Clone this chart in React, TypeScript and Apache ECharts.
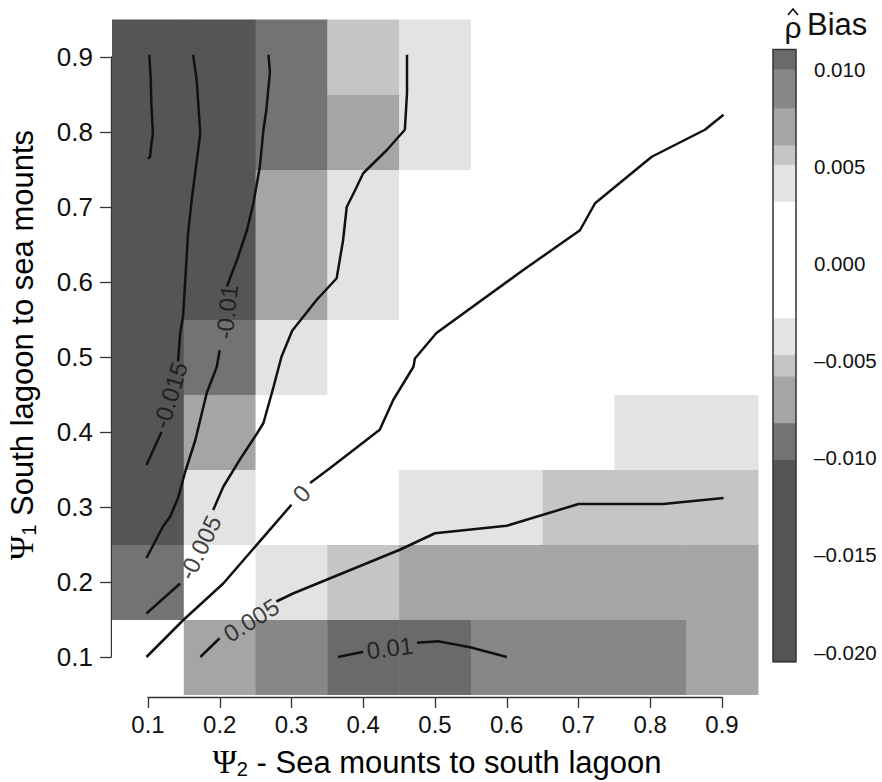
import React, { useEffect, useRef } from "react";
import * as echarts from "echarts";

// ---- axis categories (cell centres) ----
const xCats = [0.1, 0.2, 0.3, 0.4, 0.5, 0.6, 0.7, 0.8, 0.9]; // Psi2
const yCats = [0.1, 0.2, 0.3, 0.4, 0.5, 0.6, 0.7, 0.8, 0.9]; // Psi1
const cellStep = 0.1;

// ---- bias values per row (Psi1), columns follow xCats ----
const row01 = [0.0005, 0.007, 0.009, 0.0103, 0.0105, 0.0095, 0.009, 0.0085, 0.0075];
const row02 = [-0.009, -0.0015, 0.004, 0.0056, 0.0068, 0.007, 0.0072, 0.0071, 0.007];
const row03 = [-0.013, -0.004, -0.001, 0.0008, 0.0035, 0.0042, 0.0053, 0.0055, 0.0056];
const row04 = [-0.016, -0.007, -0.0025, -0.001, 0.0002, 0.001, 0.0018, 0.0035, 0.0036];
const row05 = [-0.017, -0.0092, -0.0035, -0.0018, -0.0008, 0.0, 0.0006, 0.0012, 0.0018];
const row06 = [-0.018, -0.012, -0.0068, -0.0038, -0.002, -0.001, -0.0002, 0.0005, 0.0012];
const row07 = [-0.0185, -0.0125, -0.007, -0.004, -0.0022, -0.0012, -0.0005, 0.0002, 0.0008];
const row08 = [-0.0195, -0.0135, -0.0088, -0.0065, -0.0033, -0.0018, -0.001, -0.0004, 0.0001];
const row09 = [-0.02, -0.014, -0.009, -0.0052, -0.0035, -0.002, -0.001, -0.0005, 0.0];
const biasRows = [row01, row02, row03, row04, row05, row06, row07, row08, row09];

// ---- colour scale ----
const bandBreaks = [-0.0205, -0.0101, -0.0082, -0.0058, -0.0047, -0.0028, 0.0032, 0.0051, 0.0061, 0.008, 0.01, 0.011];
const bandColors = ["#555555", "#737373", "#a5a5a5", "#c5c5c5", "#e3e3e3", "#ffffff", "#e3e3e3", "#c5c5c5", "#a5a5a5", "#878787", "#6a6a6a"];
const legendTicks = [-0.02, 0.01, 0.005];

// ---- contour lines (Psi2, Psi1) ----
const contourUnlabeled = [[0.102, 0.903], [0.104, 0.869], [0.105, 0.834], [0.107, 0.798], [0.105, 0.785], [0.103, 0.767], [0.1, 0.764]];
const contourM015a = [[0.163, 0.903], [0.168, 0.869], [0.173, 0.798], [0.17, 0.776], [0.161, 0.709], [0.156, 0.665], [0.149, 0.554], [0.145, 0.532], [0.142, 0.494]];
const contourM015b = [[0.119, 0.4], [0.098, 0.356]];
const contourM010a = [[0.268, 0.903], [0.27, 0.88], [0.265, 0.829], [0.261, 0.803], [0.256, 0.754], [0.247, 0.705], [0.238, 0.669], [0.224, 0.629], [0.21, 0.594]];
const contourM010b = [[0.2, 0.509], [0.196, 0.487], [0.182, 0.452], [0.166, 0.389], [0.152, 0.347], [0.142, 0.312], [0.131, 0.287], [0.121, 0.274], [0.098, 0.232]];
const contourM005a = [[0.461, 0.903], [0.461, 0.852], [0.458, 0.803], [0.433, 0.776], [0.4, 0.745], [0.389, 0.723], [0.377, 0.7], [0.372, 0.656], [0.363, 0.605], [0.335, 0.576], [0.301, 0.535], [0.286, 0.5], [0.275, 0.46], [0.261, 0.412], [0.252, 0.398], [0.228, 0.363], [0.205, 0.327], [0.191, 0.296]];
const contourM005b = [[0.145, 0.198], [0.098, 0.158]];
const contourZeroA = [[0.902, 0.823], [0.876, 0.803], [0.802, 0.767], [0.793, 0.76], [0.723, 0.705], [0.702, 0.669], [0.623, 0.616], [0.502, 0.532], [0.472, 0.498], [0.47, 0.487], [0.442, 0.443], [0.423, 0.403], [0.354, 0.352], [0.326, 0.332]];
const contourZeroB = [[0.3, 0.303], [0.205, 0.198], [0.149, 0.149], [0.098, 0.1]];
const contourP005a = [[0.173, 0.1], [0.2, 0.125]];
const contourP005b = [[0.279, 0.174], [0.303, 0.185], [0.354, 0.205], [0.405, 0.225], [0.451, 0.243], [0.5, 0.265], [0.6, 0.275], [0.7, 0.304], [0.818, 0.304], [0.902, 0.312]];
const contourP010a = [[0.365, 0.1], [0.4, 0.107]];
const contourP010b = [[0.475, 0.119], [0.504, 0.121], [0.549, 0.113], [0.6, 0.1]];
const contourSegments = [
  contourUnlabeled, contourM015a, contourM015b, contourM010a, contourM010b,
  contourM005a, contourM005b, contourZeroA, contourZeroB, contourP005a, contourP005b,
  contourP010a, contourP010b,
];

const labelTexts = ["-0.015", "-0.01", "-0.005", "0", "0.005", "0.01"];
const labelX = [0.131, 0.21, 0.1725, 0.314, 0.244, 0.437];
const labelY = [0.449, 0.56, 0.246, 0.318, 0.149, 0.112];
const labelAngles = [73, 84, 64, 46, 32, 7];

const FONT = "'Liberation Sans', Arial, Helvetica, sans-serif";

function colorFor(v: number): string {
  for (let i = 0; i < bandColors.length; i++) {
    if (v < bandBreaks[i + 1]) return bandColors[i];
  }
  return bandColors[bandColors.length - 1];
}

export default function App() {
  const ref = useRef<HTMLDivElement>(null);
  useEffect(() => {
    if (!ref.current) return;
    const chart = echarts.init(ref.current, null, { renderer: "svg" });

    const cells: number[][] = [];
    biasRows.forEach((row, j) => row.forEach((v, i) => cells.push([xCats[i], yCats[j], v])));

    const bands = bandColors.map((c, i) => [bandBreaks[i], bandBreaks[i + 1], i]);

    const subRich = {
      p: { fontFamily: "'Liberation Serif', 'DejaVu Serif', serif", fontSize: 33, color: "#111" },
      s: { fontFamily: FONT, fontSize: 20, color: "#111", padding: [14, 0, 0, 0] },
      t: { fontFamily: FONT, fontSize: 31, color: "#111" },
    };

    const option: any = {
      animation: false,
      textStyle: { fontFamily: FONT },
      grid: [
        { left: 112, top: 19.5, width: 646, height: 675, containLabel: false, outerBoundsMode: "none" },
        { left: 148, top: 57, width: 574, height: 600, containLabel: false, outerBoundsMode: "none" },
        { left: 773, top: 69, width: 23, height: 583, containLabel: false, outerBoundsMode: "none" },
      ],
      xAxis: [
        { gridIndex: 0, type: "value", min: 0.05, max: 0.95, show: false },
        {
          gridIndex: 1, type: "value", min: 0.1, max: 0.9, interval: 0.1, position: "bottom", offset: 40,
          axisLine: { show: true, lineStyle: { color: "#333", width: 1.3 } },
          axisTick: { show: true, length: 11, lineStyle: { color: "#333", width: 1.3 } },
          axisLabel: { fontSize: 24, color: "#111", margin: 15, formatter: (v: number) => v.toFixed(1) },
          splitLine: { show: false },
        },
        { gridIndex: 2, type: "value", min: 0, max: 1, show: false },
      ],
      yAxis: [
        { gridIndex: 0, type: "value", min: 0.05, max: 0.95, show: false },
        {
          gridIndex: 1, type: "value", min: 0.1, max: 0.9, interval: 0.1, position: "left", offset: 37,
          axisLine: { show: true, lineStyle: { color: "#333", width: 1.3 } },
          axisTick: { show: true, length: 11, lineStyle: { color: "#333", width: 1.3 } },
          axisLabel: { fontSize: 26, color: "#111", margin: 18, formatter: (v: number) => v.toFixed(1) },
          splitLine: { show: false },
        },
        {
          gridIndex: 2, type: "value", min: legendTicks[0], max: legendTicks[1], interval: legendTicks[2], position: "right",
          axisLine: { show: false },
          axisTick: { show: true, length: 11, lineStyle: { color: "#888", width: 2 } },
          axisLabel: {
            fontSize: 20.5, color: "#111", margin: 18,
            formatter: (v: number) => (Math.abs(v) < 1e-9 ? "0.000" : v.toFixed(3).replace("-", "\u2013")),
          },
          splitLine: { show: false },
        },
      ],
      series: [
        {
          type: "custom", xAxisIndex: 0, yAxisIndex: 0, data: cells,
          renderItem: (params: any, api: any) => {
            const c = api.coord([api.value(0), api.value(1)]);
            const s = api.size([cellStep, cellStep]);
            return {
              type: "rect",
              shape: { x: c[0] - s[0] / 2, y: c[1] - s[1] / 2, width: s[0] + 0.5, height: s[1] + 0.5 },
              style: { fill: colorFor(api.value(2)) },
            };
          },
        },
        ...contourSegments.map((seg) => ({
          type: "line", xAxisIndex: 0, yAxisIndex: 0, data: seg, showSymbol: false, symbol: "none",
          lineStyle: { color: "#111", width: 2.5 }, silent: true, z: 3,
        })),
        {
          type: "scatter", xAxisIndex: 0, yAxisIndex: 0, symbolSize: 2, z: 5,
          itemStyle: { color: "rgba(0,0,0,0)" },
          data: labelTexts.map((t, i) => ({
            value: [labelX[i], labelY[i]],
            label: {
              show: true, position: "inside", formatter: t, rotate: labelAngles[i],
              fontSize: 24, color: "#111", fontFamily: FONT,
            },
          })),
        },
        {
          type: "custom", xAxisIndex: 2, yAxisIndex: 2, data: bands, clip: false,
          renderItem: (params: any, api: any) => {
            const p1 = api.coord([0, api.value(1)]);
            const p2 = api.coord([1, api.value(0)]);
            return {
              type: "rect",
              shape: { x: p1[0], y: p1[1], width: p2[0] - p1[0], height: p2[1] - p1[1] + 0.5 },
              style: { fill: bandColors[api.value(2)] },
            };
          },
        },
        {
          type: "custom", xAxisIndex: 2, yAxisIndex: 2, clip: false, z: 3,
          data: [[bandBreaks[0], bandBreaks[bandBreaks.length - 1]]],
          renderItem: (params: any, api: any) => {
            const p1 = api.coord([0, api.value(1)]);
            const p2 = api.coord([1, api.value(0)]);
            return {
              type: "rect",
              shape: { x: p1[0], y: p1[1], width: p2[0] - p1[0], height: p2[1] - p1[1] },
              style: { fill: "none", stroke: "#333", lineWidth: 1.5 },
            };
          },
        },
      ],
      graphic: [
        {
          type: "text", x: 437, y: 762,
          style: { text: "{p|\u03A8}{s|2}{t| - Sea mounts to south lagoon}", rich: subRich, align: "center", verticalAlign: "middle" },
        },
        {
          type: "text", x: 22, y: 345, rotation: Math.PI / 2,
          style: { text: "{p|\u03A8}{s|1}{t| South lagoon to sea mounts}", rich: subRich, align: "center", verticalAlign: "middle" },
        },
        {
          type: "text", x: 793, y: 27,
          style: { text: "\u03C1", fontSize: 30, fontFamily: FONT, fill: "#111", align: "center", verticalAlign: "middle" },
        },
        {
          type: "polyline",
          shape: { points: [[788, 15], [793, 9], [798, 15]] },
          style: { stroke: "#111", lineWidth: 1.6, fill: "none" },
        },
        {
          type: "text", x: 807, y: 24,
          style: { text: "Bias", fontSize: 31, fontFamily: FONT, fill: "#111", align: "left", verticalAlign: "middle" },
        },
      ],
    };
    chart.setOption(option);
    return () => chart.dispose();
  }, []);
  return <div ref={ref} style={{ position: "absolute", left: 0, top: 0, width: 882, height: 782, background: "#fff" }} />;
}
